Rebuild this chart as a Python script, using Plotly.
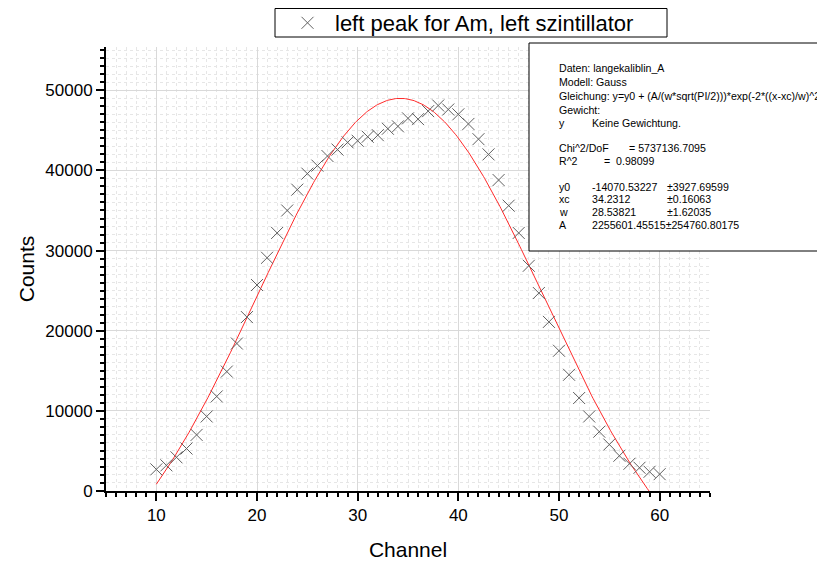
import numpy as np
import plotly.graph_objects as go

# ---------------- data ----------------
channels = [10, 11, 12, 13, 14, 15, 16, 17, 18, 19,
            20, 21, 22, 23, 24, 25, 26, 27, 28, 29,
            30, 31, 32, 33, 34, 35, 36, 37, 38, 39,
            40, 41, 42, 43, 44, 45, 46, 47, 48, 49,
            50, 51, 52, 53, 54, 55, 56, 57, 58, 59, 60]
counts = [2700, 3200, 4200, 5300, 7000, 9300, 11800, 14900, 18400, 21700,
          25700, 29100, 32200, 35000, 37600, 39600, 40600, 41800, 42600, 43500,
          43700, 44200, 44400, 45200, 45500, 46500, 46400, 47400, 48100, 47600,
          47000, 45800, 43900, 42000, 38800, 35600, 32200, 28100, 24700, 21100,
          17500, 14500, 11600, 9300, 7400, 5800, 4400, 3400, 2900, 2400, 2100]

# Gauss fit parameters as printed in the fit report
fit_y0 = -14070.53227
fit_xc = 34.2312
fit_w = 28.53821
fit_A = 2255601.45515
fit_range = [10, 60]

series_name = "left peak for Am, left szintillator"
x_title = "Channel"
y_title = "Counts"

report_col1 = ["Daten: langekaliblin_A", "Modell: Gauss",
               "Gleichung: y=y0 + (A/(w*sqrt(PI/2)))*exp(-2*((x-xc)/w)^2)",
               "Gewicht:", "y", "Chi^2/DoF", "R^2", "y0", "xc", "w", "A"]
report_col2 = ["", "", "", "", "Keine Gewichtung.", "", "",
               "-14070.53227", "34.2312", "28.53821", "2255601.45515±254760.80175"]
report_col3 = ["", "", "", "", "", "", "", "±3927.69599", "±0.16063", "±1.62035", ""]
report_chi = "= 5737136.7095"
report_r2 = "=  0.98099"

# ---------------- layout helpers (page pixel -> paper) ----------------
OFF = 8  # default page body margin
W, H = 825 - OFF, 564 - OFF
PL, PR, PT, PB = 106, 710, 47, 491  # plot area in page pixels
ML, MR, MT, MB = PL - OFF, W - (PR - OFF), PT - OFF, H - (PB - OFF)
PW, PH = PR - PL, PB - PT


def px(x):
    return (x - PL) / PW


def py(y):
    return (PB - y) / PH


fit_x = np.linspace(fit_range[0], fit_range[1], 401)
fit_y = fit_y0 + (fit_A / (fit_w * np.sqrt(np.pi / 2))) * np.exp(-2 * ((fit_x - fit_xc) / fit_w) ** 2)

FONT = "Liberation Sans, Arial, sans-serif"

fig = go.Figure()
fig.add_trace(go.Scatter(
    x=fit_x, y=fit_y, mode="lines",
    line=dict(color="#ff2a2a", width=1),
    showlegend=False, hoverinfo="skip",
))
fig.add_trace(go.Scatter(
    x=channels, y=counts, mode="markers", name=series_name,
    marker=dict(symbol="x-thin-open", size=12, color="#606060",
                line=dict(color="#606060", width=1)),
))

axis_common = dict(
    showline=True, linecolor="black", linewidth=2,
    ticks="outside", ticklen=8, tickwidth=1.5, tickcolor="black",
    showgrid=True, gridcolor="#d9d9d9", gridwidth=1,
    zeroline=False,
    tickfont=dict(family=FONT, size=17, color="black"),
)

fig.update_xaxes(
    **axis_common,
    range=[5, 65], tick0=0, dtick=10,
    minor=dict(dtick=1, ticks="outside", ticklen=4, tickwidth=1.5, tickcolor="black",
               showgrid=True, gridcolor="#e6e6e6", griddash="dot", gridwidth=1),
    title=dict(text=x_title, font=dict(family=FONT, size=21, color="black"), standoff=18),
)
fig.update_yaxes(
    **axis_common,
    range=[0, 55400], tick0=0, dtick=10000, tickformat="d",
    minor=dict(dtick=1000, ticks="outside", ticklen=4, tickwidth=1.5, tickcolor="black",
               showgrid=True, gridcolor="#e6e6e6", griddash="dot", gridwidth=1),
    title=dict(text=y_title, font=dict(family=FONT, size=21, color="black"), standoff=5),
)

shapes = [
    # legend frame
    dict(type="rect", xref="paper", yref="paper",
         x0=px(275), x1=px(667), y0=py(37), y1=py(OFF + 0.5),
         line=dict(color="black", width=1), fillcolor="rgba(0,0,0,0)", layer="above"),
    # fit report box
    dict(type="rect", xref="paper", yref="paper",
         x0=px(529), x1=px(845), y0=py(251), y1=py(43),
         line=dict(color="black", width=1), fillcolor="white", layer="above"),
]

line_y = [68, 82, 96, 110, 123, 148, 161, 187, 199, 212, 225]

annotations = []


def add_text(txt, x, y):
    annotations.append(dict(
        text=txt, xref="paper", yref="paper", x=px(x), y=py(y),
        xanchor="left", yanchor="middle", showarrow=False,
        font=dict(family=FONT, size=10.6, color="black"),
    ))


for i, t in enumerate(report_col1):
    add_text(t, 557, line_y[i])
for i, t in enumerate(report_col2):
    if t:
        add_text(t, 590, line_y[i])
for i, t in enumerate(report_col3):
    if t:
        add_text(t, 665, line_y[i])
add_text(report_chi, 627, line_y[5])
add_text(report_r2, 602, line_y[6])

fig.update_layout(
    width=W, height=H,
    margin=dict(l=ML, r=MR, t=MT, b=MB, autoexpand=False),
    paper_bgcolor="white", plot_bgcolor="white",
    shapes=shapes, annotations=annotations,
    showlegend=True,
    legend=dict(
        x=px(280), y=py(2), xanchor="left", yanchor="top",
        bgcolor="rgba(0,0,0,0)", borderwidth=0,
        font=dict(family=FONT, size=22, color="black"),
        itemwidth=45,
    ),
)

fig.write_html("out.html")
